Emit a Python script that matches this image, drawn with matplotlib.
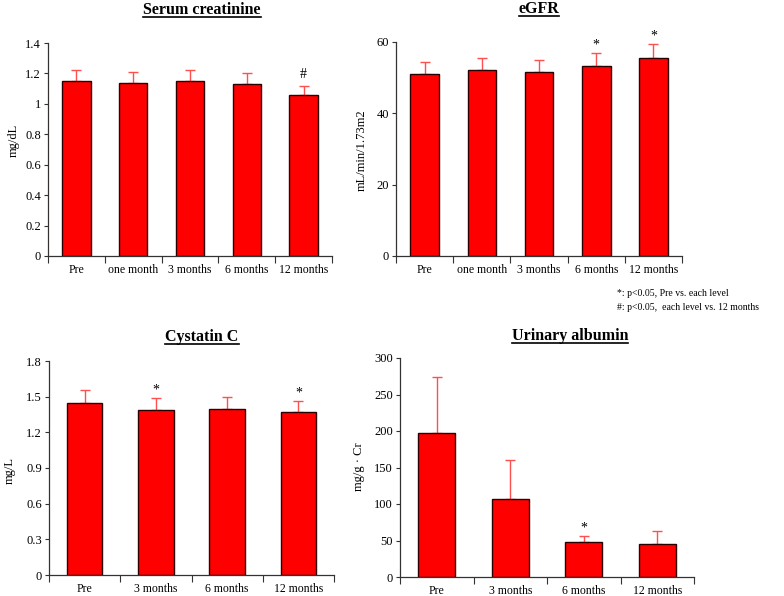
import matplotlib
matplotlib.use("Agg")
import matplotlib.pyplot as plt
from matplotlib.ticker import FormatStrFormatter, FixedLocator
import numpy as np

plt.rcParams['font.family'] = ['Liberation Serif', 'DejaVu Serif']

# ---- data ----
cats5 = ["Pre", "one month", "3 months", "6 months", "12 months"]
cats4 = ["Pre", "3 months", "6 months", "12 months"]

creat_vals = [1.15, 1.14, 1.15, 1.13, 1.06]
creat_err = [0.07, 0.07, 0.07, 0.07, 0.06]
creat_marks = ["", "", "", "", "#"]

egfr_vals = [51.0, 52.2, 51.6, 53.2, 55.6]
egfr_err = [3.3, 3.4, 3.4, 3.7, 3.9]
egfr_marks = ["", "", "", "*", "*"]

cyst_vals = [1.45, 1.39, 1.40, 1.37]
cyst_err = [0.11, 0.10, 0.10, 0.09]
cyst_marks = ["", "*", "", "*"]

alb_vals = [197.5, 106.5, 48.0, 45.8]
alb_err = [76.5, 53.5, 7.7, 16.8]
alb_marks = ["", "", "*", ""]

W, H = 784, 596
fig = plt.figure(figsize=(W / 100, H / 100), dpi=100)


def px_rect(l, t, r, b):
    return [l / W, 1 - b / H, (r - l) / W, (b - t) / H]


def panel(rect, cats, vals, errs, marks, ymax, ystep, mark_off):
    ax = fig.add_axes(rect)
    n = len(cats)
    x = np.arange(n) + 0.5
    ax.bar(x, vals, width=0.5, color="#ff0000", edgecolor="#2a0000",
           linewidth=1.0, zorder=2)
    ax.errorbar(x, vals, yerr=[np.zeros(n), errs], fmt="none",
                ecolor="#ff5050", elinewidth=1.0, capsize=3.5, capthick=1.0,
                zorder=1)
    for xi, v, e, m in zip(x, vals, errs, marks):
        if m:
            ax.annotate(m, (xi, v + e), xytext=(0, mark_off),
                        textcoords="offset points", ha="center", va="bottom",
                        fontsize=10)
    ax.set_xlim(0, n)
    ax.set_ylim(0, ymax)
    ax.set_yticks(np.arange(0, ymax + ystep / 2, ystep))
    ax.yaxis.set_major_formatter(FormatStrFormatter('%g'))
    ax.xaxis.set_major_locator(FixedLocator(np.arange(n + 1)))
    ax.set_xticklabels([])
    ax.xaxis.set_minor_locator(FixedLocator(x))
    ax.set_xticklabels(cats, minor=True)
    ax.tick_params(axis="x", which="major", length=5, width=0.8,
                   direction="out", color="#333333")
    ax.tick_params(axis="x", which="minor", length=0, labelsize=8.5, pad=6)
    ax.tick_params(axis="y", length=3, width=0.8, labelsize=9, pad=2,
                   color="#333333")
    for s in ("top", "right"):
        ax.spines[s].set_visible(False)
    for s in ("left", "bottom"):
        ax.spines[s].set_color("#333333")
        ax.spines[s].set_linewidth(0.9)
    return ax


panel(px_rect(48, 43, 332, 256), cats5, creat_vals, creat_err, creat_marks, 1.4, 0.2, 3)
panel(px_rect(396, 42, 682, 256), cats5, egfr_vals, egfr_err, egfr_marks, 60, 20, 1)
panel(px_rect(49, 361, 334, 575), cats4, cyst_vals, cyst_err, cyst_marks, 1.8, 0.3, 1)
panel(px_rect(400, 358, 694, 577), cats4, alb_vals, alb_err, alb_marks, 300, 50, 1)

# titles (bold, underlined)
titles = [("Serum creatinine", 202, 10), ("eGFR", 539, 9),
          ("Cystatin C", 202, 337), ("Urinary albumin", 570, 336)]
title_texts = []
for t, cx, cy in titles:
    tt = fig.text(cx / W, 1 - cy / H, t, ha="center", va="center",
                  fontsize=11.5, fontweight="bold")
    title_texts.append(tt)

# y labels
ylabels = [("mg/dL", 14, 140), ("mL/min/1.73m2", 362, 150),
           ("mg/L", 10, 470), ("mg/g \u00b7 Cr", 359, 467)]
for t, cx, cy in ylabels:
    fig.text(cx / W, 1 - cy / H, t, ha="center", va="center",
             rotation=90, fontsize=9)

# footnotes
fig.text(617 / W, 1 - 294 / H, "*: p<0.05, Pre vs. each level",
         ha="left", va="center", fontsize=7)
fig.text(617 / W, 1 - 308 / H, "#: p<0.05,  each level vs. 12 months",
         ha="left", va="center", fontsize=7)

# underline titles
fig.canvas.draw()
r = fig.canvas.get_renderer()
for tt in title_texts:
    bb = tt.get_window_extent(renderer=r)
    y = bb.y0 + 1
    fig.add_artist(plt.Line2D([bb.x0 / W, bb.x1 / W], [y / H, y / H],
                              color="black", linewidth=1.2,
                              transform=fig.transFigure))

fig.savefig("out.png", dpi=100)
